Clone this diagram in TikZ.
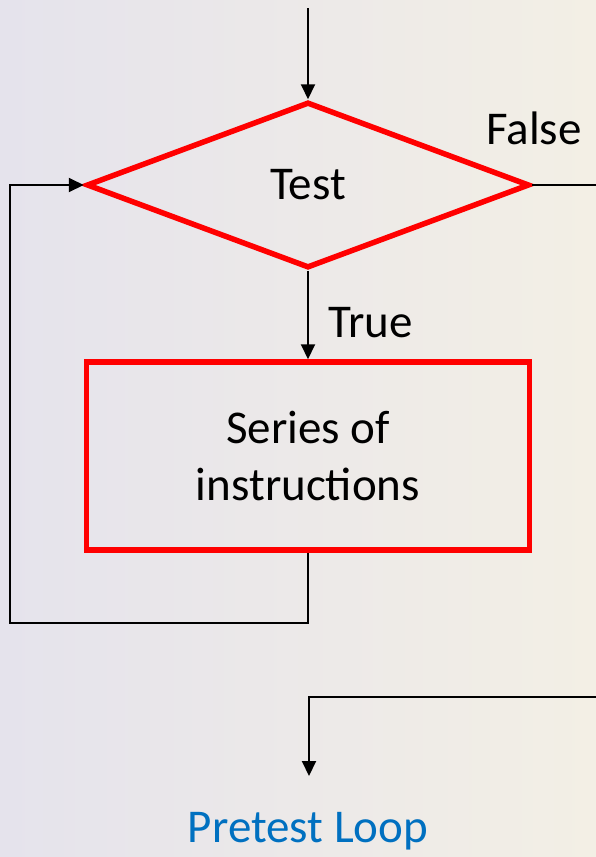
\documentclass[tikz,border=0pt]{standalone}
\usepackage{fontspec}
\setmainfont{Carlito}
\usetikzlibrary{shapes.geometric,arrows.meta,positioning}

\definecolor{loopred}{RGB}{255,0,0}
\definecolor{titleblue}{RGB}{0,112,192}
\definecolor{bgleft}{RGB}{229,227,236}
\definecolor{bgright}{RGB}{243,239,229}

\begin{document}
\begin{tikzpicture}[
    x=1pt, y=-1pt,
    flow/.style={draw=loopred, line width=5.5pt, font=\fontsize{47}{57}\selectfont, align=center},
    test-box/.style={flow, diamond, minimum width=443pt, minimum height=166pt, inner sep=0pt},
    step-box/.style={flow, rectangle, minimum width=443pt, minimum height=188pt},
    lbl/.style={font=\fontsize{47}{57}\selectfont, inner sep=0pt},
    wire/.style={draw=black, line width=2pt},
    arr/.style={wire, -{Triangle[width=14pt,length=15pt]}}
  ]

% Background
\fill[left color=bgleft, right color=bgright] (0,0) rectangle (596,857);
\useasboundingbox (0,0) rectangle (596,857);

% Decision and body
\node[test-box] (test) at (308,185) {Test};
\node[step-box] (body) at (308,456) {Series of\\instructions};

% Free ends
\coordinate (entry) at (308,8);
\coordinate (exit-r) at (596,185);
\coordinate (back-r) at (596,697);
\coordinate (done) at (309,776);

% Connectors
\draw[arr] (entry) -- (test.north);
\draw[arr] (test.south) -- (body.north);
\draw[arr] (body.south) -- (308,623) -- (10,623) -- (10,185) -- (test.west);
\draw[wire] (test.east) -- (exit-r);
\draw[arr] (back-r) -- (309,697) -- (done);

% Labels
\node[lbl] (false) at (534,128) {False};
\node[lbl, anchor=west] (true) at (328,323) {True};
\node[lbl, text=titleblue] (title) at (308,831) {Pretest Loop};

\end{tikzpicture}
\end{document}
